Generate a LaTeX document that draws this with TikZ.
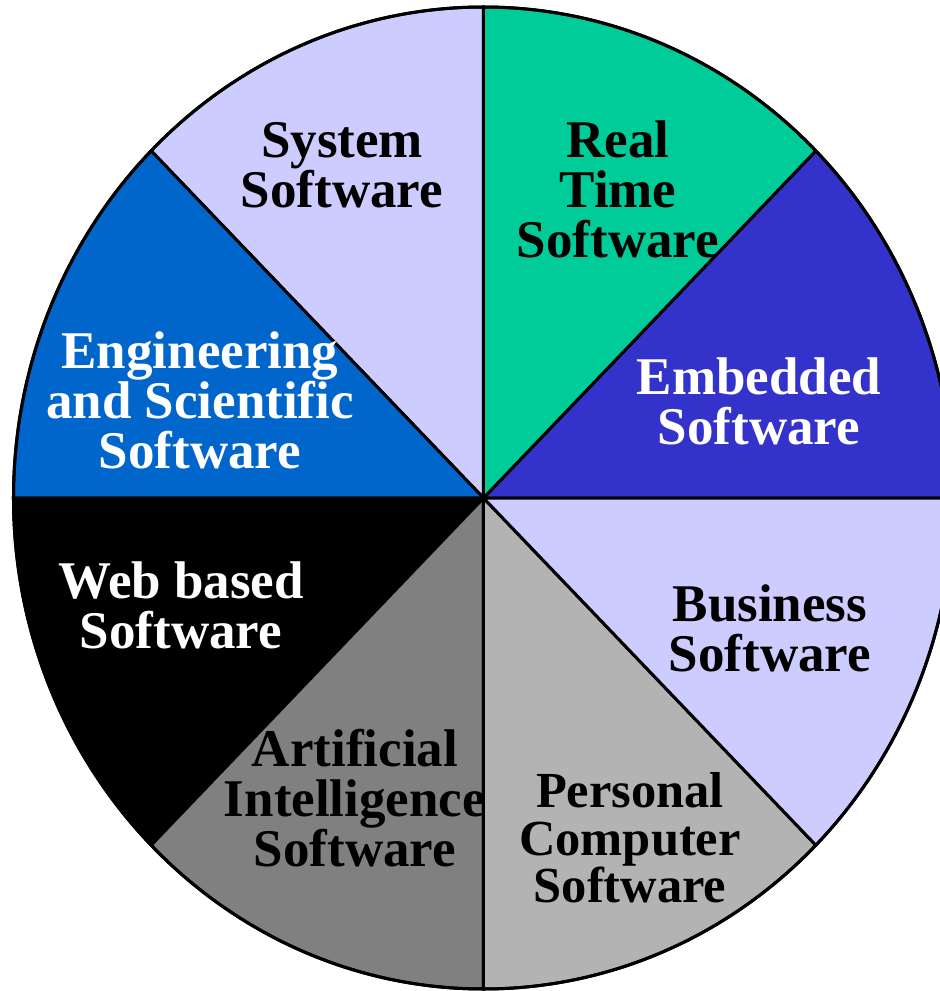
\documentclass[tikz,border=0pt]{standalone}
\usepackage{fontspec}
\setmainfont{Liberation Serif}
\definecolor{lav}{HTML}{CCCCFF}
\definecolor{teal}{HTML}{00CC99}
\definecolor{royal}{HTML}{3333CC}
\definecolor{engblue}{HTML}{0066CC}
\definecolor{midgray}{HTML}{808080}
\definecolor{ltgray}{HTML}{B3B3B3}
\begin{document}
\begin{tikzpicture}[x=1pt,y=1pt,
  lbl/.style={align=center,font=\fontsize{53}{50}\selectfont\bfseries,inner sep=0pt},
  slice/.style={draw=black,line width=3pt,line join=round}]
\useasboundingbox (-483.5,-493) rectangle (456.5,498);
\clip (-483.5,-493) rectangle (456.5,498);
\coordinate (c) at (0,0);
\foreach \a/\col in {0/royal,45/teal,90/lav,135/engblue,180/black,225/midgray,270/ltgray,315/lav}{
  \filldraw[slice,fill=\col] (c) -- ++(\a:470 and 491) arc[start angle=\a,end angle=\a+45,x radius=470,y radius=491] -- cycle;
}
\draw[line width=3pt] (c) ellipse[x radius=470,y radius=491];
\node[lbl] (sys) at (342-483.5,498-165) {System\\Software};
\node[lbl] (rt) at (618-483.5,498-189) {Real\\Time\\Software};
\node[lbl,text=white] (emb) at (759-483.5,498-401) {Embedded\\Software};
\node[lbl] (bus) at (770-483.5,498-628) {Business\\Software};
\node[lbl,font=\fontsize{50.5}{47.5}\selectfont\bfseries] (pc) at (630-483.5,498-838) {Personal\\Computer\\Software};
\node[lbl] (ai) at (355-483.5,498-798) {Artificial\\Intelligence\\Software};
\node[lbl,text=white] (web) at (181-483.5,498-605) {Web based\\Software};
\node[lbl,text=white] (eng) at (200-483.5,498-400) {Engineering\\and Scientific\\Software};
\end{tikzpicture}
\end{document}
